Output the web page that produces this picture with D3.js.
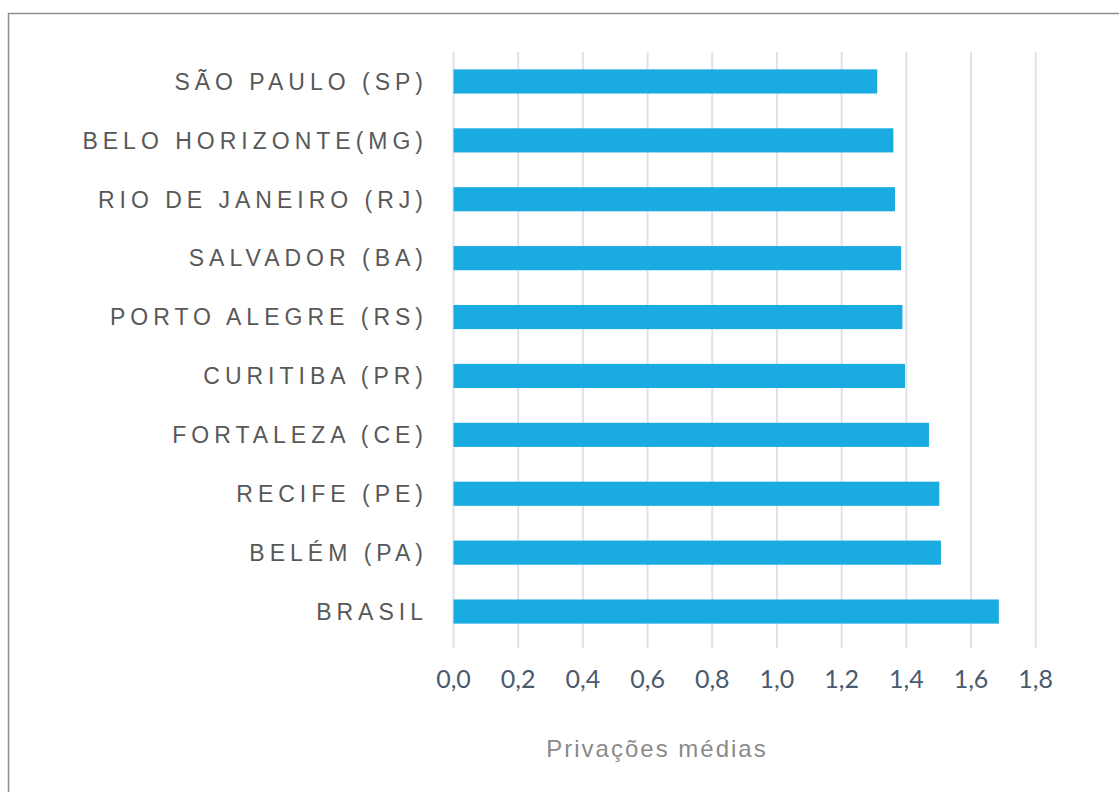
<!DOCTYPE html>
<html>
<head>
<meta charset="utf-8">
<script src="https://cdn.jsdelivr.net/npm/d3@7"></script>
<style>
  html, body { margin: 0; padding: 0; background: #fff; }
  svg { display: block; }
</style>
</head>
<body>
<svg id="chart" width="1119" height="792"></svg>
<script>
// Average deprivations by metropolitan area
const categories = [
  "SÃO PAULO (SP)",
  "BELO HORIZONTE(MG)",
  "RIO DE JANEIRO (RJ)",
  "SALVADOR (BA)",
  "PORTO ALEGRE (RS)",
  "CURITIBA (PR)",
  "FORTALEZA (CE)",
  "RECIFE (PE)",
  "BELÉM (PA)",
  "BRASIL"
];
const values = [1.31, 1.36, 1.365, 1.384, 1.388, 1.396, 1.47, 1.502, 1.507, 1.686];
const tickValues = [0, 0.2, 0.4, 0.6, 0.8, 1.0, 1.2, 1.4, 1.6, 1.8];
const axisTitle = "Privações médias";

const svg = d3.select("#chart");

// outer frame
svg.append("rect")
  .attr("x", 8.5).attr("y", 13.5)
  .attr("width", 1200).attr("height", 900)
  .attr("fill", "none")
  .attr("stroke", "#8e8e8e")
  .attr("stroke-width", 1.5);

const plot = { left: 453.5, right: 1035.7, top: 52, bottom: 641 };

const x = d3.scaleLinear().domain([0, 1.8]).range([plot.left, plot.right]);
const y = d3.scaleBand().domain(categories)
  .range([plot.top, plot.bottom]).paddingInner(0.59).paddingOuter(0.295);

// vertical gridlines with tick extensions below the plot
svg.append("g").selectAll("line").data(tickValues).join("line")
  .attr("x1", d => x(d)).attr("x2", d => x(d))
  .attr("y1", plot.top).attr("y2", 648)
  .attr("stroke", "#dde3ea").attr("stroke-width", 2);

// bars
svg.append("g").selectAll("rect").data(values).join("rect")
  .attr("x", x(0))
  .attr("y", (d, i) => y(categories[i]))
  .attr("width", d => x(d) - x(0))
  .attr("height", y.bandwidth())
  .attr("fill", "#1aabe1");

// category labels
const labelSpacing = 5.0;
svg.append("g").selectAll("text").data(categories).join("text")
  .attr("x", 423 + labelSpacing)
  .attr("y", d => y(d) + y.bandwidth() / 2)
  .attr("dy", "0.36em")
  .attr("text-anchor", "end")
  .attr("font-family", "'Liberation Sans', Arial, sans-serif")
  .attr("font-size", 23)
  .attr("letter-spacing", labelSpacing + "px")
  .attr("fill", "#585858")
  .text(d => d);

// x tick labels
const fmt = d => d3.format(".1f")(d).replace(".", ",");
svg.append("g").selectAll("text").data(tickValues).join("text")
  .attr("x", d => x(d))
  .attr("y", 679)
  .attr("dy", "0.36em")
  .attr("text-anchor", "middle")
  .attr("font-family", "Lato, 'Open Sans', sans-serif")
  .attr("font-size", 25)
  .attr("fill", "#4a5a6e")
  .text(fmt);

// axis title
svg.append("text")
  .attr("x", 657).attr("y", 757)
  .attr("text-anchor", "middle")
  .attr("font-family", "'Liberation Sans', Arial, sans-serif")
  .attr("font-size", 24)
  .attr("letter-spacing", "2px")
  .attr("fill", "#8a8a8a")
  .text(axisTitle);
</script>
</body>
</html>
